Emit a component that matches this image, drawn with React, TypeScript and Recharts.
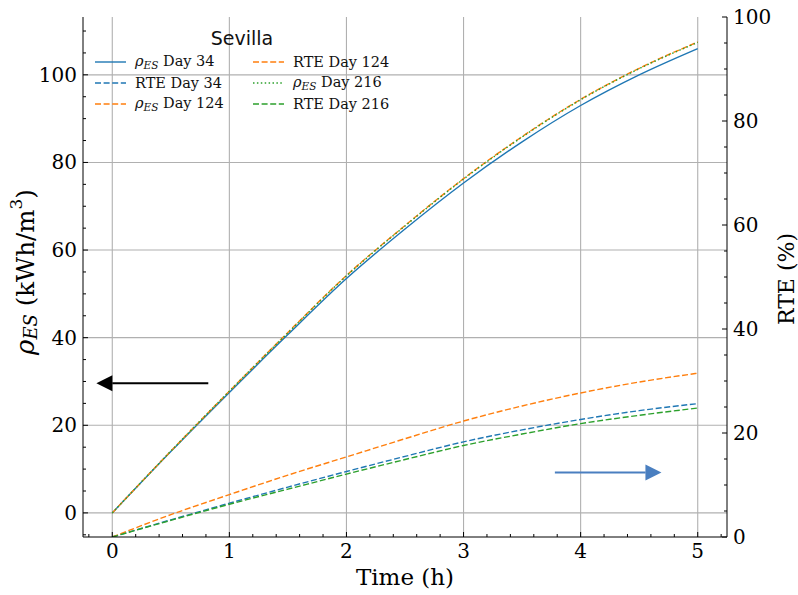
import React from 'react';
import {ComposedChart, Line, XAxis, YAxis, CartesianGrid, Legend, ReferenceLine, ReferenceDot, Label} from 'recharts';

// time axis (h)
const time = [0, 0.5, 1, 1.5, 2, 2.5, 3, 3.5, 4, 4.5, 5];

// energy storage density (kWh/m3), left axis
const rhoDay34 = [0, 14.0, 27.5, 40.7, 53.5, 64.8, 75.3, 84.7, 93.0, 100.0, 106.0];
const rhoDay124 = [0, 14.1, 27.8, 41.2, 54.2, 65.6, 76.3, 85.9, 94.4, 101.5, 107.5];
const rhoDay216 = [0, 14.1, 27.8, 41.1, 54.1, 65.5, 76.2, 85.8, 94.3, 101.4, 107.4];

// round trip efficiency (%), right axis
const rteDay34 = [0, 3.3, 6.5, 9.6, 12.6, 15.5, 18.3, 20.6, 22.6, 24.3, 25.65];
const rteDay124 = [0, 4.3, 8.15, 11.9, 15.4, 18.9, 22.3, 25.2, 27.7, 29.8, 31.5];
const rteDay216 = [0, 3.2, 6.3, 9.2, 12.1, 14.9, 17.6, 19.8, 21.8, 23.4, 24.8];

const xMajor = [0, 1, 2, 3, 4, 5];
const leftMajor = [0, 20, 40, 60, 80, 100];
const rightMajor = [0, 20, 40, 60, 80, 100];

// annotation arrows: [tail x, head base x, tip x, y]
const leftArrow = [0.82, 0.0, -0.136, 29.6];
const rightArrow = [3.78, 4.555, 4.69, 12.4];

const C0 = '#1f77b4';
const C1 = '#ff7f0e';
const C2 = '#2ca02c';
const SERIF = '"DejaVu Serif", serif';

const data = time.map((t, i) => ({
    t,
    rho34: rhoDay34[i],
    rho124: rhoDay124[i],
    rho216: rhoDay216[i],
    rte34: rteDay34[i],
    rte124: rteDay124[i],
    rte216: rteDay216[i],
}));

// legend order (matplotlib fills columns first)
const series = [
    {key: 'rho34', axis: 'left', color: C0, dash: undefined, rho: true, day: 34},
    {key: 'rte34', axis: 'right', color: C0, dash: '6 2.6', rho: false, day: 34},
    {key: 'rho124', axis: 'left', color: C1, dash: '6 2.6', rho: true, day: 124},
    {key: 'rte124', axis: 'right', color: C1, dash: '6 2.6', rho: false, day: 124},
    {key: 'rho216', axis: 'left', color: C2, dash: '1.5 2.4', rho: true, day: 216},
    {key: 'rte216', axis: 'right', color: C2, dash: '6 2.6', rho: false, day: 216},
];

const range = (from: number, to: number, step: number) => {
    const out: number[] = [];
    for (let v = from; v <= to + 1e-9; v += step) out.push(Math.round(v * 100) / 100);
    return out;
};
const xTicks = range(-0.2, 5.2, 0.2);
const leftTicks = range(-5, 110, 5);
const rightTicks = range(0, 100, 5);

const TICK_FONT = 20;

const BottomTick = ({x, y, payload}: any) => {
    const major = xMajor.includes(payload.value);
    return (
        <g>
            <line x1={x} x2={x} y1={y} y2={y - (major ? 5 : 3)} stroke="#000"/>
            {major && <text x={x} y={y + 21} textAnchor="middle" fontFamily={SERIF} fontSize={TICK_FONT}
                            fill="#000">{payload.value}</text>}
        </g>
    );
};

const TopTick = ({x, y, payload}: any) => {
    const major = xMajor.includes(payload.value);
    return <line x1={x} x2={x} y1={y} y2={y + (major ? 5 : 3)} stroke="#000"/>;
};

const LeftTick = ({x, y, payload}: any) => {
    const major = leftMajor.includes(payload.value);
    return (
        <g>
            <line x1={x} x2={x + (major ? 5 : 3)} y1={y} y2={y} stroke="#000"/>
            {major && <text x={x - 6} y={y + 7} textAnchor="end" fontFamily={SERIF} fontSize={TICK_FONT}
                            fill="#000">{payload.value}</text>}
        </g>
    );
};

const RightTick = ({x, y, payload}: any) => {
    const major = rightMajor.includes(payload.value);
    return (
        <g>
            <line x1={x} x2={x - (major ? 5 : 3)} y1={y} y2={y} stroke="#000"/>
            {major && <text x={x + 6} y={y + 7} textAnchor="start" fontFamily={SERIF} fontSize={TICK_FONT}
                            fill="#000">{payload.value}</text>}
        </g>
    );
};

const LeftLabel = ({viewBox}: any) => {
    const cx = viewBox.x + 25;
    const cy = viewBox.y + viewBox.height / 2 - 5;
    return (
        <text x={cx} y={cy} transform={`rotate(-90 ${cx} ${cy})`} textAnchor="middle" dominantBaseline="central"
              fontFamily={SERIF} fontSize={24.5} fill="#000">
            <tspan fontStyle="italic" fontSize={26}>ρ</tspan>
            <tspan fontStyle="italic" fontSize={18} dy={5}>ES</tspan>
            <tspan dy={-5}> (kWh/m</tspan>
            <tspan fontSize={17} dy={-9}>3</tspan>
            <tspan dy={9}>)</tspan>
        </text>
    );
};

const RightLabel = ({viewBox}: any) => {
    const cx = viewBox.x + viewBox.width - 12;
    const cy = viewBox.y + viewBox.height / 2 + 2;
    return (
        <text x={cx} y={cy} transform={`rotate(-90 ${cx} ${cy})`} textAnchor="middle" dominantBaseline="central"
              fontFamily={SERIF} fontSize={22} fill="#000">RTE (%)</text>
    );
};

const BottomLabel = ({viewBox}: any) => (
    <text x={viewBox.x + viewBox.width / 2} y={viewBox.y + 48} textAnchor="middle" fontFamily={SERIF}
          fontSize={23} fill="#000">Time (h)</text>
);

const SeriesName = ({rho, day}: {rho: boolean, day: number}) => rho ? (
    <span><i>ρ</i><sub style={{fontSize: 10.5, fontStyle: 'italic', verticalAlign: '-3px'}}>ES</sub> Day {day}</span>
) : <span>RTE Day {day}</span>;

const LegendBox = () => (
    <div style={{position: 'relative', width: 400, height: 120, fontFamily: SERIF, fontSize: 14.5, color: '#111'}}>
        <div style={{position: 'absolute', left: 142, width: 200, top: 26, textAlign: 'center',
            fontFamily: '"DejaVu Sans", sans-serif', fontSize: 19, lineHeight: '24px'}}>Sevilla</div>
        {series.map((s, i) => {
            const col = Math.floor(i / 3);
            const row = i % 3;
            const left = col === 0 ? 95 : 253;
            const cy = 62 + row * 21;
            return (
                <div key={s.key} style={{position: 'absolute', left, top: cy - 10, height: 20, display: 'flex',
                    alignItems: 'center', whiteSpace: 'nowrap'}}>
                    <svg width={31} height={20} style={{marginRight: 9}}>
                        <line x1={0} x2={31} y1={10} y2={10} stroke={s.color} strokeWidth={1.4}
                              strokeDasharray={s.dash}/>
                    </svg>
                    <SeriesName rho={s.rho} day={s.day}/>
                </div>
            );
        })}
    </div>
);

const arrowHead = (color: string, dir: number) => (props: any) => {
    const {cx, cy} = props;
    return <polygon points={`${cx},${cy} ${cx - dir * 16},${cy - 8} ${cx - dir * 16},${cy + 8}`} fill={color}/>;
};

const App = (): JSX.Element => {
    return (
        <div style={{position: 'absolute', left: 0, top: 0, width: 798, height: 595, background: '#fff'}}>
            <ComposedChart width={798} height={595} data={data} margin={{top: 17, right: 0, bottom: 0, left: 0}}>
                <CartesianGrid xAxisId="main" yAxisId="left" stroke="#b0b0b0" strokeWidth={1.1}
                               verticalValues={xMajor} horizontalValues={leftMajor}/>
                <XAxis xAxisId="main" type="number" dataKey="t" domain={[-0.25, 5.25]} ticks={xTicks}
                       interval={0} tickSize={0} tickMargin={0} height={58} allowDataOverflow
                       axisLine={{stroke: '#000'}} tickLine={false} tick={<BottomTick/>}>
                    <Label content={<BottomLabel/>}/>
                </XAxis>
                <XAxis xAxisId="top" orientation="top" type="number" dataKey="t" domain={[-0.25, 5.25]}
                       ticks={xTicks} interval={0} tickSize={0} tickMargin={0} height={0} allowDataOverflow
                       axisLine={{stroke: '#000'}} tickLine={false} tick={<TopTick/>}/>
                <YAxis yAxisId="left" type="number" domain={[-5.5, 113.2]} ticks={leftTicks} interval={0}
                       tickSize={0} tickMargin={0} width={83} allowDataOverflow axisLine={{stroke: '#000'}}
                       tickLine={false} tick={<LeftTick/>}>
                    <Label content={<LeftLabel/>}/>
                </YAxis>
                <YAxis yAxisId="right" orientation="right" type="number" domain={[0, 100]} ticks={rightTicks}
                       interval={0} tickSize={0} tickMargin={0} width={71} allowDataOverflow
                       axisLine={{stroke: '#000'}} tickLine={false} tick={<RightTick/>}>
                    <Label content={<RightLabel/>}/>
                </YAxis>
                {series.filter(s => s.rho).concat(series.filter(s => !s.rho)).map(s => (
                    <Line key={s.key} xAxisId="main" yAxisId={s.axis} type="monotone" dataKey={s.key}
                          stroke={s.color} strokeWidth={1.4} strokeDasharray={s.dash} dot={false}
                          activeDot={false} isAnimationActive={false}/>
                ))}
                <ReferenceLine xAxisId="main" yAxisId="left" stroke="#000" strokeWidth={1.8}
                               segment={[{x: leftArrow[0], y: leftArrow[3]}, {x: leftArrow[1], y: leftArrow[3]}]}/>
                <ReferenceDot xAxisId="main" yAxisId="left" x={leftArrow[2]} y={leftArrow[3]} r={8}
                              shape={arrowHead('#000', -1)}/>
                <ReferenceLine xAxisId="main" yAxisId="right" stroke="#4a7fc0" strokeWidth={2}
                               segment={[{x: rightArrow[0], y: rightArrow[3]}, {x: rightArrow[1], y: rightArrow[3]}]}/>
                <ReferenceDot xAxisId="main" yAxisId="right" x={rightArrow[2]} y={rightArrow[3]} r={8}
                              shape={arrowHead('#4a7fc0', 1)}/>
                <Legend layout="horizontal" verticalAlign="middle" align="center" content={<LegendBox/>}
                        wrapperStyle={{left: 0, top: 0, width: 400, height: 120}}/>
            </ComposedChart>
        </div>
    );
}

export default App;
